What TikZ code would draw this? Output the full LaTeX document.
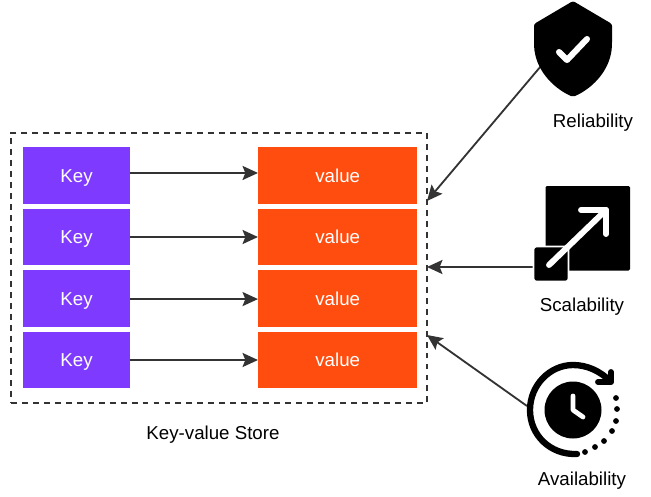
\documentclass[tikz,border=0pt]{standalone}
\usepackage{fontspec}
\setmainfont{Liberation Sans}
\usetikzlibrary{arrows.meta}
\definecolor{keyviolet}{HTML}{7F3AFF}
\definecolor{valorange}{HTML}{FF4D0F}
\definecolor{linkgray}{HTML}{333333}
\tikzset{
    keybox/.style={rectangle, fill=keyviolet, text=white, minimum width=2.65cm, minimum height=1.41cm, inner sep=0pt, text height=11pt, text depth=1.4pt, font=\fontsize{13.3}{16}\selectfont},
    valbox/.style={rectangle, fill=valorange, text=white, minimum width=3.97cm, minimum height=1.41cm, inner sep=0pt, text height=11pt, text depth=1.4pt, font=\fontsize{13.3}{16}\selectfont},
    storebox/.style={rectangle, draw=linkgray, line width=1.5pt, dash pattern=on 4.2pt off 3.6pt, minimum width=10.4cm, minimum height=6.75cm, inner sep=0pt},
    caption/.style={inner sep=0pt, font=\fontsize{13.3}{16}\selectfont},
    link/.style={draw=linkgray, line width=1.3pt, -{Stealth[length=11pt, width=10pt, inset=2pt]}},
}
\begin{document}
\begin{tikzpicture}[x=0.025cm, y=-0.025cm]
    \useasboundingbox (0,0) rectangle (651,496);

    % Store
    \node[storebox] (store) at (219,268) {};
    \node[caption] (storename) at (213,435) {Key-value Store};

    % Keys
    \node[keybox] (key1) at (76.5,175.5) {Key};
    \node[keybox] (key2) at (76.5,237) {Key};
    \node[keybox] (key3) at (76.5,298.5) {Key};
    \node[keybox] (key4) at (76.5,360) {Key};

    % Values
    \node[valbox] (val1) at (337.7,175.5) {value};
    \node[valbox] (val2) at (337.7,237) {value};
    \node[valbox] (val3) at (337.7,298.5) {value};
    \node[valbox] (val4) at (337.7,360) {value};

    % Links
    \draw[link] ([yshift=1.8pt]key1.east) -- ([yshift=1.8pt]val1.west);
    \draw[link] (key2.east) -- (val2.west);
    \draw[link] ([yshift=-0.4pt]key3.east) -- ([yshift=-0.4pt]val3.west);
    \draw[link] (key4.east) -- (val4.west);

    % Icon ends and store ends of the links
    \coordinate (shieldend) at (541,66);
    \coordinate (scaleend) at (534,267);
    \coordinate (clockend) at (527,406);
    \coordinate (storetop) at (427,201);
    \coordinate (storemid) at (427,267);
    \coordinate (storelow) at (427,335);
    \draw[link] (shieldend) -- (storetop);
    \draw[link] (scaleend) -- (storemid);
    \draw[link] (clockend) -- (storelow);

    % Reliability icon
    \fill[black, rounded corners=1.5pt] (573,1) -- (612,24) -- (612,44) .. controls (611,68) and (595,87) .. (573,97) .. controls (551,87) and (535,68) .. (534,44) -- (534,24) -- cycle;
    \draw[white, line width=4.3pt, line cap=round, line join=round] (559,52) -- (567,60) -- (587,39);
    \node[caption] (reliability) at (593,123) {Reliability};

    % Scalability icon
    \fill[black, rounded corners=1pt] (545.5,186) rectangle (630,270.5);
    \fill[black, draw=white, line width=1.2pt, rounded corners=2pt] (533.5,246.5) rectangle (568.5,281.5);
    \draw[white, line width=4.2pt, line cap=round, line join=round] (549,265) -- (606,210);
    \draw[white, line width=4.2pt, line cap=round, line join=round] (581,210) -- (606,210) -- (606,234);
    \node[caption] (scalability) at (582,306.5) {Scalability};

    % Availability icon
    \fill[black] (573,410) circle (28.5);
    \draw[white, line width=3.4pt, line cap=round, line join=round] (573,396) -- (573,410) -- (583,417);
    \draw[black, line width=4.5pt, line cap=round] (577,454) .. controls (550,455) and (530,435) .. (530,410) .. controls (530,385) and (550,365) .. (573,365) .. controls (587,365) and (600,371) .. (610,381);
    \draw[black, line width=4.2pt, line cap=round, line join=round] (598,382) -- (611,382) -- (611,372);
    \fill[black] (616,398) circle (2.9);
    \fill[black] (617,409) circle (2.9);
    \fill[black] (616,421) circle (2.9);
    \fill[black] (612,431) circle (2.9);
    \fill[black] (604,441) circle (2.9);
    \fill[black] (595,447) circle (2.9);
    \fill[black] (585,452) circle (2.9);
    \node[caption] (availability) at (582,480.5) {Availability};
\end{tikzpicture}
\end{document}
